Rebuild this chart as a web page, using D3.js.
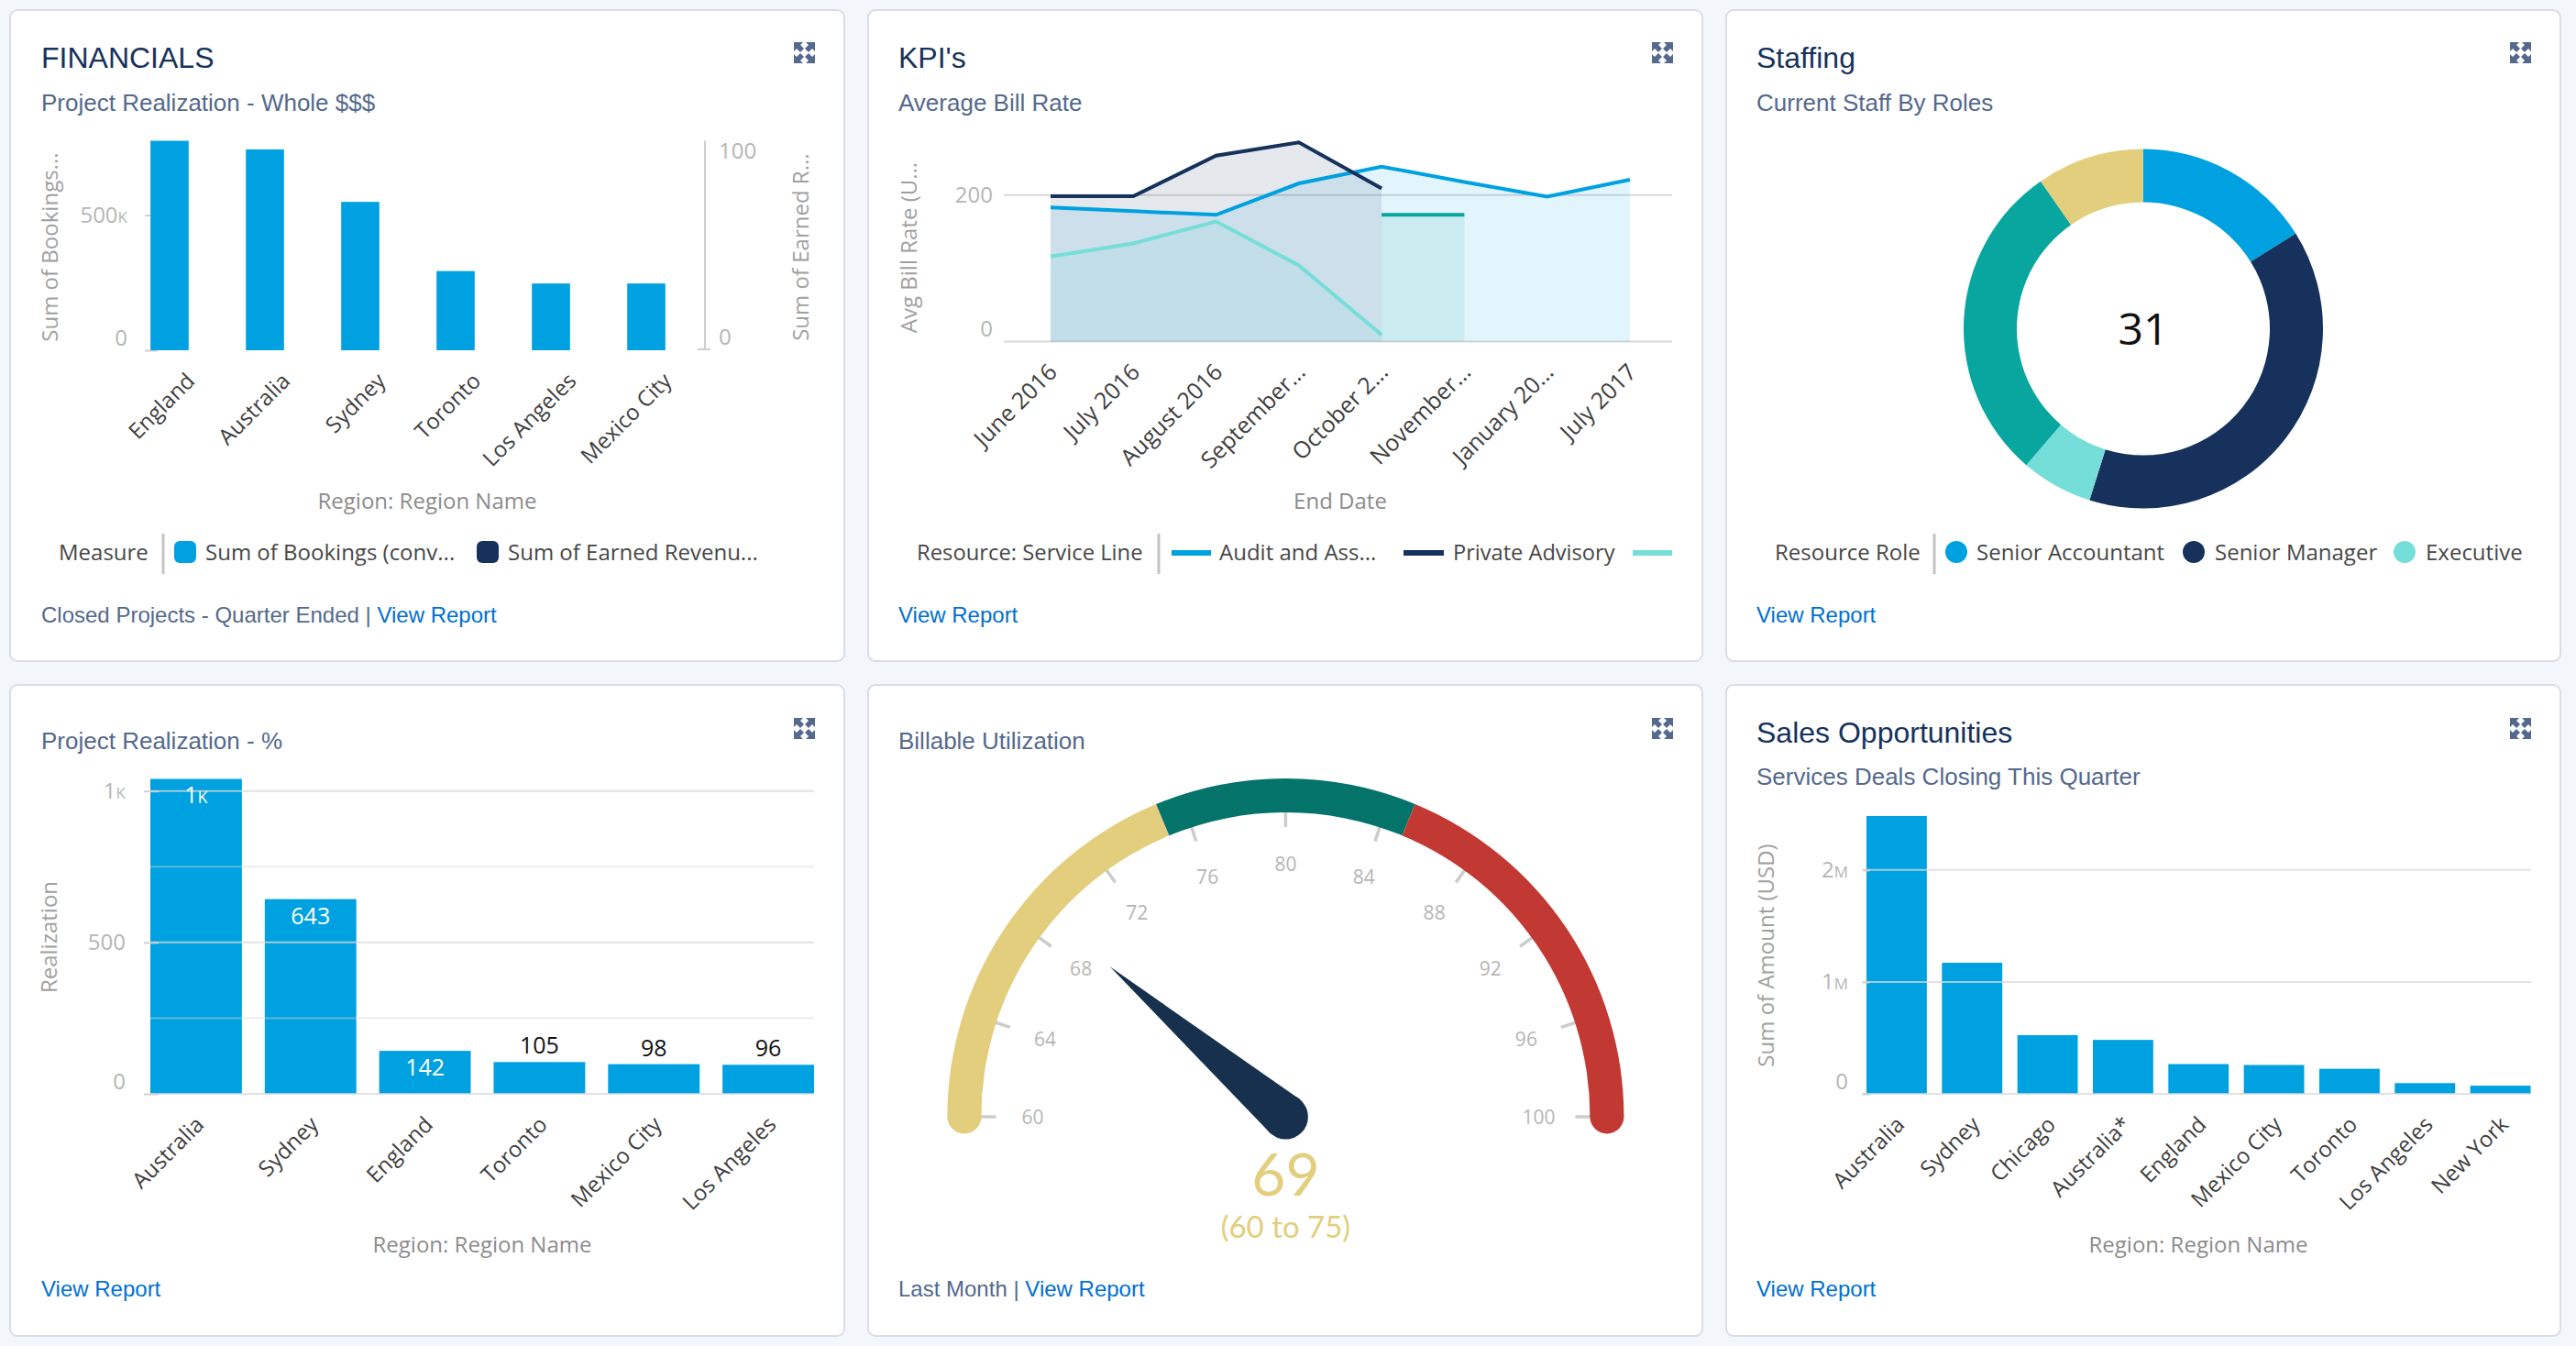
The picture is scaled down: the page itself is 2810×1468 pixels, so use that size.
<!DOCTYPE html>
<html><head><meta charset="utf-8">
<script src="https://cdn.jsdelivr.net/npm/d3@7"></script>
<style>
html,body{margin:0;padding:0;background:#f3f6fb;overflow:hidden}
svg{display:block}
text{font-family:"Open Sans",sans-serif}
.hd{font-family:"Liberation Sans",sans-serif}
.lt{font-family:"Lato",sans-serif}
</style></head><body><svg id="c" width="2810" height="1468"></svg>
<script>
// ---------- data ----------
const finCategories = ["England","Australia","Sydney","Toronto","Los Angeles","Mexico City"];
const finBookings = [775000,743000,549000,293000,247000,247000];
const kpiDates = ["June 2016","July 2016","August 2016","September...","October 2...","November...","January 20...","July 2017"];
const kpiAudit = [183,178,173,216,239,218,198,221];
const kpiPrivate = [198.5,198.5,254,272,209,null,null,null];
const kpiLight = [116,134,164,104,9,null,null,null];
const kpiTeal = [null,null,null,null,173,173,null,null];
const staffRoles = ["Senior Accountant","Senior Manager","Executive","Other Role","Other Role 2"];
const staffCounts = [5,12,2,9,3];
const realCategories = ["Australia","Sydney","England","Toronto","Mexico City","Los Angeles"];
const realValues = [1040,643,142,105,98,96];
const gaugeValue = 69;
const gaugeTicks = [60,64,68,72,76,80,84,88,92,96,100];
const gaugeBands = [[60,75],[75,85],[85,100]];
const salesCategories = ["Australia","Sydney","Chicago","Australia*","England","Mexico City","Toronto","Los Angeles","New York"];
const salesValues = [2482000,1171000,524000,482000,266000,258000,224000,96000,73000];

// ---------- palette ----------
const BLUE="#00a1e0",NAVY="#16325c",LIGHT="#76ded9",TEAL="#08a69e",GOLD="#e2ce7d",DKTEAL="#04736a",RED="#c23934";
const TICK="#b5b5b5",AXT="#8c8c8c",LEG="#474747",SUB="#54698d",LINK="#0070d2",GRID="#d8d8d8";

const svg=d3.select("#c");

function txt(x,y,s,o={}){
  const t=svg.append("text").attr("x",x).attr("y",y).text(s)
    .attr("font-size",o.size||24).attr("fill",o.fill||LEG).attr("text-anchor",o.anchor||"start");
  if(o.cls)t.attr("class",o.cls);
  if(o.rot)t.attr("transform",`rotate(-90 ${x} ${y})`);
  return t;
}
function vtitle(x,cy,s){txt(x,cy,s,{size:24,fill:"#a0a0a0",anchor:"middle",rot:true});}
function card(x,y,w,h){
  svg.append("rect").attr("x",x).attr("y",y).attr("width",w).attr("height",h).attr("rx",8)
    .attr("fill","#fff").attr("stroke","#d8dde6").attr("stroke-width",2);
}
function icon(x,y){
  const g=svg.append("g").attr("transform",`translate(${x},${y})`).attr("fill",SUB);
  const corner="M0 0H10L7 3L11 7L7 11L3 7L0 10Z";
  g.append("path").attr("d",corner);
  g.append("path").attr("d",corner).attr("transform","translate(23,0) scale(-1,1)");
  g.append("path").attr("d",corner).attr("transform","translate(0,23) scale(1,-1)");
  g.append("path").attr("d",corner).attr("transform","translate(23,23) scale(-1,-1)");
}
function head(x,title,tb,sub,sb){
  if(title)txt(x,tb,title,{size:32,fill:NAVY,cls:"hd"});
  if(sub)txt(x,sb,sub,{size:26,fill:SUB,cls:"hd"});
}
function foot(x,y,pre){
  const t=txt(x,y,"",{size:24,cls:"hd",fill:SUB});
  if(pre)t.append("tspan").text(pre+" | ");
  t.append("tspan").attr("fill",LINK).text("View Report");
}
function sep(x){svg.append("rect").attr("x",x-1.5).attr("y",582).attr("width",3).attr("height",44).attr("fill","#c4c4c4");}
// tick labels: small-cap suffix for K and M
function tickText(sel,fmt,shift){
  sel.selectAll("text").each(function(d){
    const t=d3.select(this).text(null),[n,u]=fmt(d);
    t.append("tspan").text(n);
    if(u)t.append("tspan").attr("font-size",17).text(u);
    const s=shift(d);if(s)t.attr("dy",(+s+8.5));
  });
}
function yAxis(scale,x,values,fmt,shift,ts=14){
  const g=svg.append("g").attr("transform",`translate(${x},0)`)
    .call(d3.axisLeft(scale).tickValues(values).tickSize(ts).tickPadding(12));
  g.select(".domain").remove();
  g.selectAll("line").attr("stroke","#cfcfcf").attr("stroke-width",2).attr("transform",`translate(${ts/2},0)`);
  g.selectAll("text").attr("fill",TICK).attr("font-size",24).style("font-family",'"Open Sans",sans-serif');
  tickText(g,fmt,shift);
  return g;
}
function xAxis(scale,y,dx,dy,size=24){
  const g=svg.append("g").attr("transform",`translate(0,${y})`)
    .call(d3.axisBottom(scale).tickSize(0));
  g.select(".domain").remove();
  g.selectAll("text").attr("fill","#3e3e3e").attr("font-size",size).attr("text-anchor","end")
    .attr("x",0).attr("y",0).attr("dy",0).style("font-family",'"Open Sans",sans-serif')
    .attr("transform",`translate(${dx},${dy}) rotate(-45)`);
  return g;
}
function grid(scale,x1,x2,values,op=1,sw=2){
  svg.append("g").selectAll("line").data(values).join("line")
    .attr("x1",x1).attr("x2",x2).attr("y1",d=>scale(d)).attr("y2",d=>scale(d))
    .attr("stroke",GRID).attr("stroke-width",sw).attr("stroke-opacity",op);
}
function bars(x,y,cats,vals,fill=BLUE){
  svg.append("g").selectAll("rect").data(vals).join("rect")
    .attr("x",(d,i)=>x(cats[i])).attr("width",x.bandwidth())
    .attr("y",d=>y(d)).attr("height",d=>y(0)-y(d)).attr("fill",fill);
}

// ---------- cards ----------
const cols=[11,947,1883],rows=[11,747],cw=910,ch=710;
rows.forEach(r=>cols.forEach(c=>{card(c,r,cw,ch);icon(c+855,r===11?46:783);}));

// ---------- FINANCIALS ----------
head(45,"FINANCIALS",73.5,"Project Realization - Whole $$$",121);
{
  const x=d3.scaleBand().domain(finCategories).range([133,757]).paddingInner(0.6).paddingOuter(0.3);
  const y=d3.scaleLinear().domain([0,500000]).range([382,234.6]);
  const y2=d3.scaleLinear().domain([0,100]).range([382,153.6]);
  svg.append("line").attr("x1",165).attr("x2",165).attr("y1",153.6).attr("y2",382).attr("stroke","#cfcfcf").attr("stroke-width",2);
  svg.append("line").attr("x1",769).attr("x2",769).attr("y1",153.6).attr("y2",382).attr("stroke","#cfcfcf").attr("stroke-width",2);
  svg.append("line").attr("x1",761).attr("x2",775).attr("y1",381).attr("y2",381).attr("stroke","#cfcfcf").attr("stroke-width",2);
  yAxis(y,165,[0,500000],d=>d?["500","K"]:["0",""],d=>d?0:-14);
  bars(x,y,finCategories,finBookings);
  svg.append("g").attr("transform","translate(0,0)").selectAll("text").data([0,100]).join("text")
    .attr("x",784).attr("y",d=>d?y2(d)+19:y2(d)-6).attr("fill",TICK).attr("font-size",24).text(d=>d);
  xAxis(x,382,29,35);
  vtitle(63,269.6,"Sum of Bookings...");
  vtitle(882,269.6,"Sum of Earned R...");
  txt(466,555,"Region: Region Name",{fill:AXT,anchor:"middle"});
  txt(64,611,"Measure");sep(178);
  svg.append("rect").attr("x",190).attr("y",590).attr("width",24).attr("height",24).attr("rx",6).attr("fill",BLUE);
  txt(224,611,"Sum of Bookings (conv...");
  svg.append("rect").attr("x",520).attr("y",590).attr("width",24).attr("height",24).attr("rx",6).attr("fill",NAVY);
  txt(554,611,"Sum of Earned Revenu...");
  foot(45,679,"Closed Projects - Quarter Ended");
}

// ---------- KPI ----------
head(980,"KPI's",73.5,"Average Bill Rate",121);
{
  const x=d3.scalePoint().domain(kpiDates).range([1146,1778]);
  const y=d3.scaleLinear().domain([0,200]).range([372.4,212.8]);
  grid(y,1095,1824,[0,200]);
  const series=[[kpiAudit,BLUE],[kpiPrivate,NAVY],[kpiLight,LIGHT],[kpiTeal,TEAL]];
  const defined=d=>d!==null;
  const area=d3.area().defined(defined).x((d,i)=>x(kpiDates[i])).y0(y(0)).y1(d=>y(d));
  const line=d3.line().defined(defined).x((d,i)=>x(kpiDates[i])).y(d=>y(d));
  series.forEach(([s,c])=>svg.append("path").attr("d",area(s)).attr("fill",c).attr("fill-opacity",.11));
  series.forEach(([s,c])=>svg.append("path").attr("d",line(s)).attr("fill","none").attr("stroke",c).attr("stroke-width",4));
  yAxis(y,1095,[0,200],d=>[String(d),""],d=>d?0:-14,0);
  xAxis(x,372.4,8,35,25);
  vtitle(1000,270,"Avg Bill Rate (U...");
  txt(1462,555,"End Date",{fill:AXT,anchor:"middle"});
  txt(1000,611,"Resource: Service Line",{size:23.8});sep(1264);
  [[1278,1321,BLUE],[1531,1575,NAVY],[1781,1824,LIGHT]].forEach(([a,b,c])=>
    svg.append("rect").attr("x",a).attr("y",600).attr("width",b-a).attr("height",6).attr("fill",c));
  txt(1330,611,"Audit and Ass...");
  txt(1585,611,"Private Advisory",{size:23.6});
  foot(980,679);
}

// ---------- Staffing ----------
head(1916,"Staffing",73.5,"Current Staff By Roles",121);
{
  const pie=d3.pie().sort(null)(staffCounts);
  const arc=d3.arc().innerRadius(138).outerRadius(196);
  const col=[BLUE,NAVY,LIGHT,TEAL,GOLD];
  svg.append("g").attr("transform","translate(2338,358.5)").selectAll("path").data(pie).join("path")
    .attr("d",arc).attr("fill",(d,i)=>col[i]);
  txt(2338,376,d3.sum(staffCounts),{size:48,fill:"#111",anchor:"middle"});
  txt(1936,611,"Resource Role");sep(2110);
  [[2134,2156],[2393,2416],[2623,2646]].forEach(([c,t],i)=>{
    svg.append("circle").attr("cx",c).attr("cy",602).attr("r",12).attr("fill",col[i]);
    txt(t,611,staffRoles[i]);
  });
  foot(1916,679);
}

// ---------- Realization ----------
head(45,null,0,"Project Realization - %",816.6);
{
  const x=d3.scaleBand().domain(realCategories).range([164,888]).paddingInner(0.2).paddingOuter(0);
  const y=d3.scaleLinear().domain([0,1000]).range([1193,862.7]);
  bars(x,y,realCategories,realValues);
  grid(y,164,888,[0,500,1000],.75);
  grid(y,164,888,[250,750],.45);
  yAxis(y,165,[0,500,1000],d=>d===1000?["1","K"]:[String(d),""],d=>d?0:-14,16);
  svg.append("g").selectAll("text").data(realValues).join("text")
    .attr("x",(d,i)=>x(realCategories[i])+x.bandwidth()/2)
    .attr("y",d=>d>120?y(d)+27:y(d)-9)
    .attr("text-anchor","middle").attr("font-size",25)
    .attr("fill",d=>d>120?"#fff":"#111")
    .each(function(d){
      const t=d3.select(this);
      if(d>=1000){t.append("tspan").text("1");t.append("tspan").attr("font-size",18).text("K");}
      else t.text(d);
    });
  xAxis(x,1193,10,35);
  vtitle(62,1022,"Realization");
  txt(526,1366,"Region: Region Name",{fill:AXT,anchor:"middle"});
  foot(45,1414);
}

// ---------- Gauge ----------
head(980,null,0,"Billable Utilization",816.6);
{
  const cx=1402.4,cy=1218,R=369,r=332;
  const a=d3.scaleLinear().domain([60,100]).range([-Math.PI/2,Math.PI/2]);
  const arc=d3.arc().innerRadius(r).outerRadius(R);
  const g=svg.append("g").attr("transform",`translate(${cx},${cy})`);
  const bandCols=[GOLD,DKTEAL,RED];
  const pt=(v,rad)=>[rad*Math.sin(a(v)),-rad*Math.cos(a(v))];
  g.selectAll("line").data(gaugeTicks).join("line")
    .attr("x1",d=>pt(d,r+2)[0]).attr("y1",d=>pt(d,r+2)[1])
    .attr("x2",d=>pt(d,r-16)[0]).attr("y2",d=>pt(d,r-16)[1])
    .attr("stroke","#cccccc").attr("stroke-width",3.5);
  g.selectAll("path.b").data(gaugeBands).join("path").attr("class","b")
    .attr("d",d=>arc({startAngle:a(d[0]),endAngle:a(d[1])})).attr("fill",(d,i)=>bandCols[i]);
  [[60,0],[100,2]].forEach(([v,i])=>{
    const p=pt(v,(R+r)/2);
    g.append("circle").attr("cx",p[0]).attr("cy",p[1]).attr("r",(R-r)/2).attr("fill",bandCols[i]);
  });
  g.selectAll("text").data(gaugeTicks).join("text")
    .attr("x",d=>pt(d,276)[0]).attr("y",d=>pt(d,276)[1]+8)
    .attr("text-anchor","middle").attr("font-size",21).attr("fill",TICK).text(d=>d);
  // needle
  const nr=24.5,tip=pt(gaugeValue,252),ang=a(gaugeValue);
  const perp=[Math.cos(ang)*nr,Math.sin(ang)*nr];
  g.append("path").attr("d",`M${tip[0]} ${tip[1]}L${perp[0]} ${perp[1]}L${-perp[0]} ${-perp[1]}Z`).attr("fill","#17304e");
  g.append("circle").attr("r",nr).attr("fill","#17304e");
  txt(cx,1304,gaugeValue,{size:64,fill:GOLD,anchor:"middle",cls:"lt"});
  txt(cx,1350,"(60 to 75)",{size:33,fill:GOLD,anchor:"middle",cls:"lt"});
  foot(980,1414,"Last Month");
}

// ---------- Sales ----------
head(1916,"Sales Opportunities",810,"Services Deals Closing This Quarter",856);
{
  const x=d3.scaleBand().domain(salesCategories).range([2036,2760.5]).paddingInner(0.2).paddingOuter(0);
  const y=d3.scaleLinear().domain([0,1000000]).range([1193,1070.9]);
  bars(x,y,salesCategories,salesValues);
  grid(y,2031,2761,[0,1000000,2000000],.75);
  yAxis(y,2036,[0,1000000,2000000],d=>d?[String(d/1e6),"M"]:["0",""],d=>d?0:-14,8);
  xAxis(x,1193,10,35);
  vtitle(1935,1042,"Sum of Amount (USD)");
  txt(2398,1366,"Region: Region Name",{fill:AXT,anchor:"middle"});
  foot(1916,1414);
}
</script></body></html>
